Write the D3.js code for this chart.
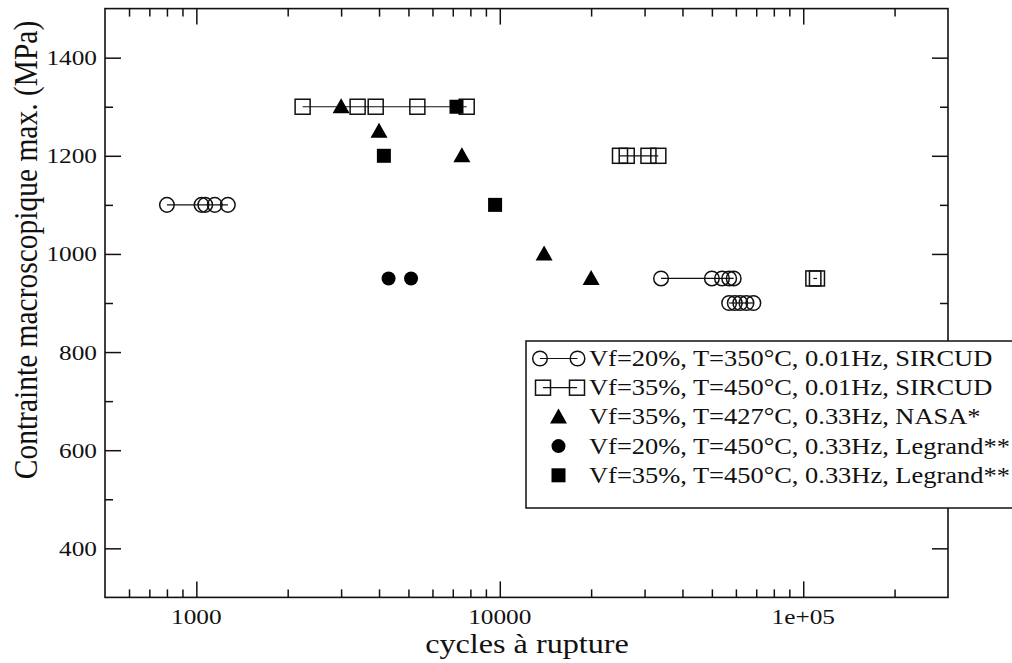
<!DOCTYPE html>
<html><head><meta charset="utf-8">
<script src="https://cdn.jsdelivr.net/npm/d3@7"></script>
<style>
html,body{margin:0;padding:0;background:#fff;}
svg{display:block;font-family:"Liberation Serif","Times New Roman",serif;}
</style></head>
<body>
<svg id="chart" width="1012" height="663"></svg>
<script>
// ---- data ----
const xMajorTicks = [1000, 10000, 100000];
const xMajorLabels = ["1000", "10000", "1e+05"];
const xMinorTicks = [600,700,800,900,2000,3000,4000,5000,6000,7000,8000,9000,20000,30000,40000,50000,60000,70000,80000,90000,200000];
const yMajorTicks = [400, 600, 800, 1000, 1200, 1400];
const yMinorTicks = [500, 700, 900, 1100, 1300];

// Vf=20%, T=350°C, 0.01Hz, SIRCUD (open circles, joined per stress level)
const sircud20Stress = [1100, 950, 900];
const sircud20Cycles = [
  [800, 1040, 1070, 1150, 1270],
  [34000, 50000, 54000, 57000, 59000],
  [57000, 59500, 62000, 65000, 68500]
];
// Vf=35%, T=450°C, 0.01Hz, SIRCUD (open squares, joined per stress level)
const sircud35Stress = [1300, 1200, 950];
const sircud35Cycles = [
  [2240, 3400, 3900, 5350, 7780],
  [24900, 26200, 30900, 33300],
  [108000, 111000]
];
// Vf=35%, T=427°C, 0.33Hz, NASA* (filled triangles)
const nasaCycles = [3000, 4000, 7500, 14000, 20000];
const nasaStress = [1300, 1250, 1200, 1000, 950];
// Vf=20%, T=450°C, 0.33Hz, Legrand** (filled circles)
const legrand20Cycles = [4300, 5100];
const legrand20Stress = [950, 950];
// Vf=35%, T=450°C, 0.33Hz, Legrand** (filled squares)
const legrand35Cycles = [7200, 4150, 9650];
const legrand35Stress = [1300, 1200, 1100];

const legendLabels = [
  "Vf=20%, T=350°C, 0.01Hz, SIRCUD",
  "Vf=35%, T=450°C, 0.01Hz, SIRCUD",
  "Vf=35%, T=427°C, 0.33Hz, NASA*",
  "Vf=20%, T=450°C, 0.33Hz, Legrand**",
  "Vf=35%, T=450°C, 0.33Hz, Legrand**"
];
const xTitle = "cycles à rupture";
const yTitle = "Contrainte macroscopique max. (MPa)";

// ---- layout ----
const L = 105, R = 948, T = 8.6, B = 597.4;
const SX = 1.15; // horizontal text stretch
const svg = d3.select("#chart");
const x = d3.scaleLog().domain([500, 300000]).range([L, R]);
const y = d3.scaleLinear().domain([300, 1500]).range([B, T]);

// ticks (inward on all four sides)
function tickAxis(axisFn, scale, vals, size, transform) {
  svg.append("g").attr("transform", transform)
    .call(axisFn(scale).tickValues(vals).tickSizeInner(-size).tickSizeOuter(0).tickFormat(""))
    .call(g => g.select(".domain").remove())
    .call(g => g.selectAll("line").attr("stroke", "#111").attr("stroke-width", 1.5));
}
tickAxis(d3.axisBottom, x, xMajorTicks, 16, `translate(0,${B})`);
tickAxis(d3.axisBottom, x, xMinorTicks, 8, `translate(0,${B})`);
tickAxis(d3.axisTop, x, xMajorTicks, 16, `translate(0,${T})`);
tickAxis(d3.axisTop, x, xMinorTicks, 8, `translate(0,${T})`);
tickAxis(d3.axisLeft, y, yMajorTicks, 16, `translate(${L},0)`);
tickAxis(d3.axisLeft, y, yMinorTicks, 8, `translate(${L},0)`);
tickAxis(d3.axisRight, y, yMajorTicks, 16, `translate(${R},0)`);
tickAxis(d3.axisRight, y, yMinorTicks, 8, `translate(${R},0)`);

// frame
svg.append("rect").attr("x", L).attr("y", T).attr("width", R - L).attr("height", B - T)
  .attr("fill", "none").attr("stroke", "#111").attr("stroke-width", 1.6);

// tick labels
function stretchedText(px, py, str, size, anchor) {
  return svg.append("g").attr("transform", `translate(${px},${py}) scale(${SX},1)`)
    .append("text").attr("font-size", size).attr("text-anchor", anchor).attr("fill", "#111").text(str);
}
xMajorTicks.forEach((v, i) => stretchedText(x(v), 624, xMajorLabels[i], 22, "middle"));
yMajorTicks.forEach(v => stretchedText(97, y(v) + 7.5, String(v), 22, "end"));

// axis titles
stretchedText(527, 653, xTitle, 28, "middle");
svg.append("g").attr("transform", `translate(37,250) scale(${SX},1) rotate(-90)`)
  .append("text").attr("font-size", 29.5).attr("text-anchor", "middle").attr("fill", "#111").text(yTitle);

// ---- markers ----
const plot = svg.append("g");
function openCircle(g, cx, cy) {
  g.append("circle").attr("cx", cx).attr("cy", cy).attr("r", 7.3)
    .attr("fill", "none").attr("stroke", "#111").attr("stroke-width", 1.5);
}
function openSquare(g, cx, cy) {
  g.append("rect").attr("x", cx - 7.5).attr("y", cy - 7.5).attr("width", 15).attr("height", 15)
    .attr("fill", "none").attr("stroke", "#111").attr("stroke-width", 1.5);
}
function triangle(g, cx, cy) {
  g.append("path").attr("d", `M${cx},${cy - 8.5}L${cx + 8.5},${cy + 6.5}L${cx - 8.5},${cy + 6.5}Z`).attr("fill", "#000");
}
function dot(g, cx, cy) {
  g.append("circle").attr("cx", cx).attr("cy", cy).attr("r", 7).attr("fill", "#000");
}
function filledSquare(g, cx, cy) {
  g.append("rect").attr("x", cx - 7).attr("y", cy - 7).attr("width", 14).attr("height", 14).attr("fill", "#000");
}
const line = d3.line();

sircud20Stress.forEach((s, i) => {
  const pts = sircud20Cycles[i].map(c => [x(c), y(s)]);
  plot.append("path").attr("d", line(pts)).attr("fill", "none").attr("stroke", "#111").attr("stroke-width", 1.2);
  pts.forEach(p => openCircle(plot, p[0], p[1]));
});
sircud35Stress.forEach((s, i) => {
  const pts = sircud35Cycles[i].map(c => [x(c), y(s)]);
  plot.append("path").attr("d", line(pts)).attr("fill", "none").attr("stroke", "#111").attr("stroke-width", 1.2);
  pts.forEach(p => openSquare(plot, p[0], p[1]));
});
nasaCycles.forEach((c, i) => triangle(plot, x(c), y(nasaStress[i])));
legrand20Cycles.forEach((c, i) => dot(plot, x(c), y(legrand20Stress[i])));
legrand35Cycles.forEach((c, i) => filledSquare(plot, x(c), y(legrand35Stress[i])));

// ---- legend ----
const lg = svg.append("g");
lg.append("rect").attr("x", 526).attr("y", 341).attr("width", 500).attr("height", 167)
  .attr("fill", "#fff").attr("stroke", "#111").attr("stroke-width", 1.5);
const rowY = i => 358.5 + i * 29.2;
// row 0
lg.append("line").attr("x1", 540).attr("x2", 577.5).attr("y1", rowY(0)).attr("y2", rowY(0)).attr("stroke", "#111").attr("stroke-width", 1.2);
openCircle(lg, 540, rowY(0)); openCircle(lg, 577.5, rowY(0));
// row 1
lg.append("line").attr("x1", 543).attr("x2", 577).attr("y1", rowY(1)).attr("y2", rowY(1)).attr("stroke", "#111").attr("stroke-width", 1.2);
openSquare(lg, 543, rowY(1)); openSquare(lg, 577, rowY(1));
triangle(lg, 558.5, rowY(2));
dot(lg, 558.5, rowY(3));
filledSquare(lg, 558.5, rowY(4));
legendLabels.forEach((t, i) => stretchedText(589, rowY(i) + 7.5, t, 23, "start"));
</script>
</body></html>
